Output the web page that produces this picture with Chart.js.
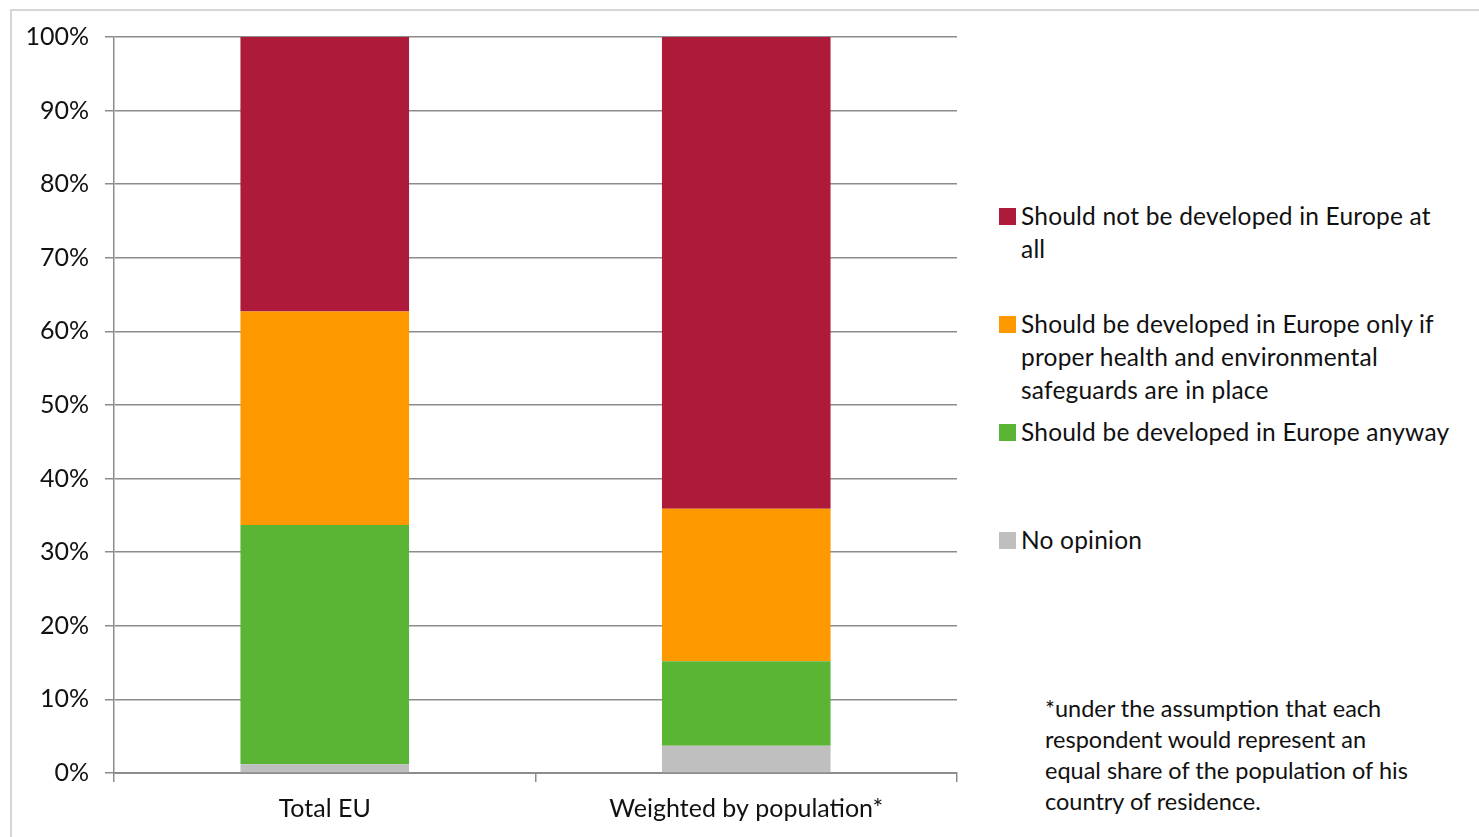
<!DOCTYPE html>
<html>
<head>
<meta charset="utf-8">
<script src="https://cdn.jsdelivr.net/npm/chart.js@4.4.1/dist/chart.umd.min.js"></script>
<style>
  html, body { margin: 0; padding: 0; background: #fff; }
  body { width: 1479px; height: 837px; position: relative; overflow: hidden; font-family: Lato, "Liberation Sans", sans-serif; color: #111; }
  #frame { position: absolute; left: 10px; top: 9px; width: 1500px; height: 900px; border: 2px solid #d6d6d6; box-sizing: border-box; }
  #wrap { position: absolute; left: 0; top: 0; width: 980px; height: 837px; }
  #legend { position: absolute; left: 999px; top: 199px; width: 475px; }
  .item { display: flex; align-items: flex-start; height: 108px; }
  .box { width: 17px; height: 17px; flex: none; margin-top: 9px; margin-right: 5px; }
  .txt { font-size: 24.5px; line-height: 33px; letter-spacing: 0.2px; white-space: nowrap; }
  #note { position: absolute; left: 1045px; top: 693px; font-size: 23.5px; line-height: 31px; white-space: nowrap; }
</style>
</head>
<body>
<div id="frame"></div>
<div id="wrap"><canvas id="chart"></canvas></div>
<div id="legend"></div>
<div id="note">*under the assumption that each<br>respondent would represent an<br>equal share of the population of his<br>country of residence.</div>
<script>
// categories and values (%), stacked from bottom to top
const categories = ['Total EU', 'Weighted by population*'];
const noOpinion = [1.2, 3.7];
const developAnyway = [32.5, 11.5];
const developIfSafe = [29.0, 20.7];
const notDeveloped = [37.3, 64.1];
const yTicks = [0, 10, 20, 30, 40, 50, 60, 70, 80, 90, 100];

const seriesLabels = [
  'No opinion',
  'Should be developed in Europe anyway',
  'Should be developed in Europe only if proper health and environmental safeguards are in place',
  'Should not be developed in Europe at all'
];
// legend lines (Excel wraps these)
const legendLines = [
  ['No opinion'],
  ['Should be developed in Europe anyway'],
  ['Should be developed in Europe only if', 'proper health and environmental', 'safeguards are in place'],
  ['Should not be developed in Europe at', 'all']
];
const colors = ['#bfbfbf', '#5bb534', '#ff9900', '#ad1a3a'];

const gridColor = '#8c8c8c';
const font = { family: 'Lato, "Liberation Sans", sans-serif', size: 25 };

const ctx = document.getElementById('chart').getContext('2d');
const chart = new Chart(ctx, {
  type: 'bar',
  data: {
    labels: categories,
    datasets: [noOpinion, developAnyway, developIfSafe, notDeveloped].map((d, i) => ({
      label: seriesLabels[i],
      data: d,
      backgroundColor: colors[i],
      borderWidth: 0,
      categoryPercentage: 1,
      barPercentage: 0.4
    }))
  },
  options: {
    responsive: true,
    maintainAspectRatio: false,
    animation: false,
    layout: { padding: { left: 0, top: 37, right: 23, bottom: 0 } },
    plugins: { legend: { display: false }, tooltip: { enabled: false } },
    scales: {
      x: {
        stacked: true,
        grid: { offset: true, drawOnChartArea: false, drawTicks: true, tickLength: 9, color: gridColor, lineWidth: 1.5 },
        border: { color: gridColor, width: 2 },
        ticks: { color: '#111', font: font, padding: 12 },
        afterFit: s => { s.height = 64; }
      },
      y: {
        stacked: true,
        min: 0,
        max: 100,
        afterBuildTicks: s => { s.ticks = yTicks.map(v => ({ value: v })); },
        grid: { color: gridColor, lineWidth: 1.5, tickLength: 9 },
        border: { color: gridColor, width: 1.5 },
        ticks: { color: '#111', font: font, padding: 16, callback: v => v + '%' },
        afterFit: s => { s.width = 114; }
      }
    }
  }
});

// legend, top to bottom = reverse of stack order
const legend = document.getElementById('legend');
for (let i = chart.data.datasets.length - 1; i >= 0; i--) {
  const item = document.createElement('div');
  item.className = 'item';
  const box = document.createElement('div');
  box.className = 'box';
  box.style.background = chart.data.datasets[i].backgroundColor;
  const txt = document.createElement('div');
  txt.className = 'txt';
  txt.innerHTML = legendLines[i].join('<br>');
  item.appendChild(box);
  item.appendChild(txt);
  legend.appendChild(item);
}
</script>
</body>
</html>
